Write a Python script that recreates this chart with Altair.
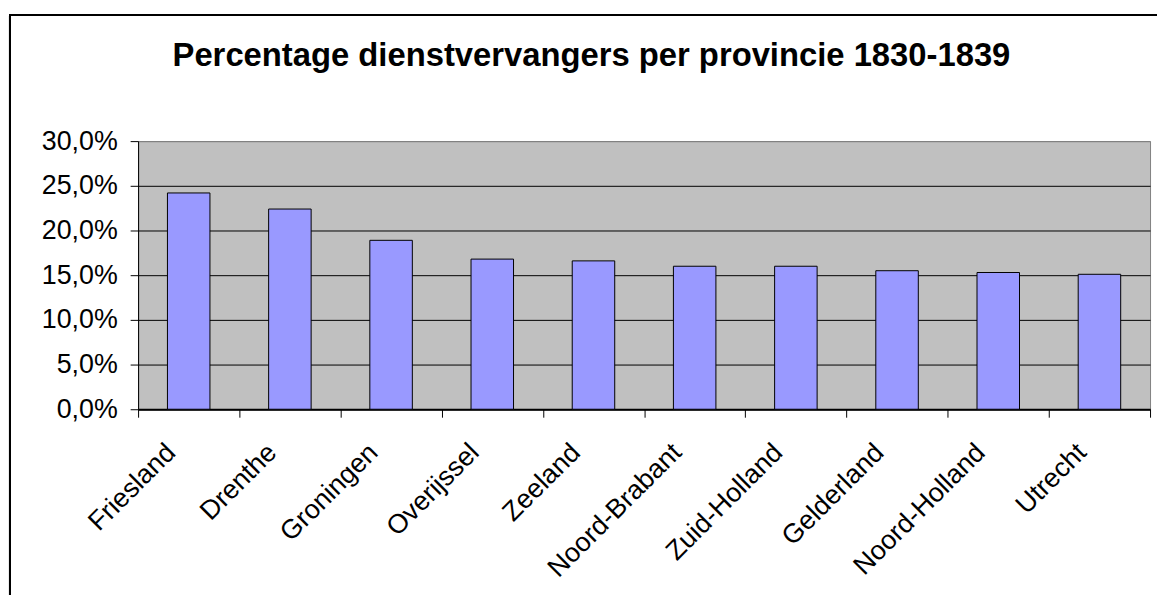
import altair as alt
import pandas as pd

provinces = ["Friesland", "Drenthe", "Groningen", "Overijssel", "Zeeland",
             "Noord-Brabant", "Zuid-Holland", "Gelderland", "Noord-Holland", "Utrecht"]
percentages = [0.242, 0.224, 0.189, 0.168, 0.166, 0.160, 0.160, 0.155, 0.153, 0.151]
y_ticks = [0.0, 0.05, 0.10, 0.15, 0.20, 0.25, 0.30]
title_text = "Percentage dienstvervangers per provincie 1830-1839"

df = pd.DataFrame({"provincie": provinces, "pct": percentages})

FONT = "Liberation Sans"

bars = alt.Chart(df).mark_bar(
    fill="#9999FF", stroke="black", strokeWidth=1, width={"band": 0.42}
).encode(
    x=alt.X("provincie:N", sort=provinces, title=None,
            scale=alt.Scale(paddingInner=0, paddingOuter=0),
            axis=alt.Axis(labelAngle=-45, labelAlign="right", labelBaseline="middle",
                          labelFontSize=27, labelFont=FONT, labelColor="black",
                          labelPadding=31, labelOffset=-18,
                          tickBand="extent", tickSize=8, tickColor="black", tickWidth=1,
                          domainColor="black", domainWidth=2, grid=False)),
    y=alt.Y("pct:Q", title=None,
            scale=alt.Scale(domain=[0, 0.3], nice=False, zero=True),
            axis=alt.Axis(values=y_ticks,
                          labelExpr="replace(format(datum.value, '.1%'), '.', ',')",
                          labelFontSize=27, labelFont=FONT, labelColor="black",
                          labelPadding=13, tickSize=8, tickColor="black", tickWidth=1,
                          domainColor="black", domainWidth=1,
                          grid=True, gridWidth=1,
                          gridColor={"condition": {"test": "datum.value >= 0.3", "value": "#808080"},
                                     "value": "black"})),
)

border = alt.Chart(df).mark_rect(
    fill=None, stroke="black", strokeWidth=2
).encode(
    x=alt.value(-129), x2=alt.value(1040),
    y=alt.value(-127), y2=alt.value(480),
)

chart = alt.layer(bars, border).properties(
    width=1019, height=270,
    autosize=alt.AutoSizeParams(type="none"),
    padding={"left": 131, "top": 132, "right": 7, "bottom": 185},
    title=alt.TitleParams(title_text, font=FONT, fontSize=33, fontWeight="bold",
                          color="black", anchor="middle", frame="group",
                          dx=-53, offset=-85, baseline="alphabetic"),
).configure(
    background="white",
    view=alt.ViewConfig(fill="#C0C0C0", stroke="#808080", strokeWidth=1),
)

chart.save("out.html", embed_options={"renderer": "svg", "actions": False})
